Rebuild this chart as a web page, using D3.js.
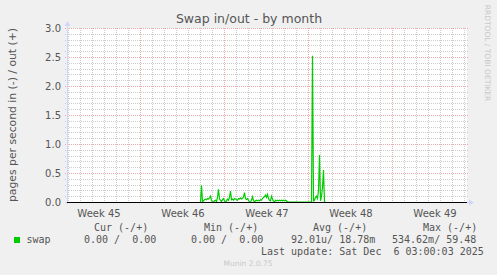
<!DOCTYPE html>
<html><head><meta charset="utf-8">
<script src="https://cdn.jsdelivr.net/npm/d3@7"></script>
<style>
html,body{margin:0;padding:0;background:#f0f0f0;}
svg{display:block;}
text{white-space:pre;}
</style></head>
<body>
<script>
// ---------- data ----------
const title = "Swap in/out - by month";
const yLabel = "pages per second in (-) / out (+)";
const yTicks = [0.0, 0.5, 1.0, 1.5, 2.0, 2.5, 3.0];
const weekLabels = ["Week 45", "Week 46", "Week 47", "Week 48", "Week 49"];
const weekLabelHours = [64, 232, 400, 568, 736];      // hours from graph start
const weekLineHours = [146, 314, 482, 650];           // week boundaries
const dayLineStartHour = 2;                            // first midnight
const rangeHours = 800;                                // 33d 8h, 2h per sample
const sampleHours = 2;
const outStartHour = 266;                              // first sample of swap out
const outValues = [
  0, 0.29, 0.0, 0.02, 0.04, 0.05, 0.04, 0.06, 0.05, 0.07, 0.10, 0.03, 0.0, 0.0, 0.02, 0.03,
  0.01, 0.08, 0.22, 0.05, 0.03, 0.01, 0.04, 0.06, 0.02, 0.0, 0.02, 0.05, 0.03, 0.08, 0.19, 0.04,
  0.05, 0.03, 0.06, 0.05, 0.04, 0.03, 0.06, 0.05, 0.07, 0.05, 0.06, 0.09, 0.16, 0.06, 0.04, 0.06,
  0.03, 0.0, 0.0, 0.03, 0.09, 0.03, 0.0, 0.02, 0.03, 0.02, 0.03, 0.02, 0.04, 0.03, 0.06, 0.08,
  0.09, 0.12, 0.08, 0.13, 0.06, 0.03, 0.02, 0.10, 0.05, 0.02, 0.0, 0.03, 0.02, 0.03, 0.02, 0.03,
  0.02, 0.03, 0.02, 0.03, 0.02, 0.03, 0.02, 0.0, 0.0, 0.0, 0.0, 0.0, 0.0, 0.0, 0.0, 0.0,
  0.0, 0.0, 0.0, 0.0, 0.0, 0.0, 0.0, 0.0, 0.0, 0.0, 0.0, 0.0, 0.0, 0.0, 0.0, 0.0,
  2.52, 0.02, 0.03, 0.08, 0.10, 0.06, 0.20, 0.81, 0.02, 0.10, 0.25, 0.55, 0.0, 0.0
];
const legendHeaders = ["Cur (-/+)", "Min (-/+)", "Avg (-/+)", "Max (-/+)"];
const legendSeries = "swap";
const legendValues = ["0.00 /  0.00", "0.00 /  0.00", "92.01u/ 18.78m", "534.62m/ 59.48"];
const lastUpdate = "Last update: Sat Dec  6 03:00:03 2025";
const footer = "Munin 2.0.75";
const watermark = "RRDTOOL / TOBI OETIKER";

// ---------- layout ----------
const W = 497, H = 275;
const L = 67, R = 467, T = 28, B = 202;
const sans = "DejaVu Sans", mono = "DejaVu Sans Mono";
const fontCol = "#555555";

const svg = d3.select("body").append("svg").attr("width", W).attr("height", H);
svg.append("rect").attr("width", W).attr("height", H).attr("fill", "#f0f0f0");

const x = d3.scaleLinear().domain([0, rangeHours]).range([L, R]);
const y = d3.scaleLinear().domain([0, 3]).range([B, T]);

svg.append("rect").attr("x", L).attr("y", T).attr("width", R - L).attr("height", B - T).attr("fill", "#ffffff");

// minor grid
const g = svg.append("g").attr("shape-rendering", "crispEdges");
const minorCol = "#cccccc", majorCol = "#eeaaaa";
const dayHours = d3.range(dayLineStartHour, rangeHours, 24).filter(h => !weekLineHours.includes(h));
g.selectAll(".vmin").data(dayHours).join("line")
  .attr("x1", d => Math.round(x(d)) + 0.5).attr("x2", d => Math.round(x(d)) + 0.5)
  .attr("y1", T).attr("y2", B + 2)
  .attr("stroke", minorCol).attr("stroke-dasharray", "1,1");
const minorY = d3.range(1, 30).map(i => i / 10).filter(v => Math.abs(v * 2 - Math.round(v * 2)) > 1e-6);
g.selectAll(".hmin").data(minorY).join("line")
  .attr("x1", L - 2).attr("x2", R + 2)
  .attr("y1", d => Math.round(y(d)) + 0.5).attr("y2", d => Math.round(y(d)) + 0.5)
  .attr("stroke", minorCol).attr("stroke-dasharray", "1,1");
// major grid
g.selectAll(".vmaj").data(weekLineHours).join("line")
  .attr("x1", d => Math.round(x(d)) + 0.5).attr("x2", d => Math.round(x(d)) + 0.5)
  .attr("y1", T).attr("y2", B + 2)
  .attr("stroke", majorCol).attr("stroke-dasharray", "1,1");
g.selectAll(".hmaj").data(yTicks.slice(1)).join("line")
  .attr("x1", L - 2).attr("x2", R + 2)
  .attr("y1", d => Math.round(y(d)) + 0.5).attr("y2", d => Math.round(y(d)) + 0.5)
  .attr("stroke", majorCol).attr("stroke-dasharray", "1,1");

// y tick labels
svg.selectAll(".yt").data(yTicks).join("text")
  .attr("x", 61).attr("y", d => y(d) + 3.5)
  .attr("text-anchor", "end").attr("font-family", sans).attr("font-size", 10)
  .attr("fill", fontCol).text(d => d.toFixed(1));

// x labels
svg.selectAll(".xt").data(weekLabels).join("text")
  .attr("x", (d, i) => x(weekLabelHours[i])).attr("y", 216.5)
  .attr("text-anchor", "middle").attr("font-family", sans).attr("font-size", 10)
  .attr("fill", fontCol).text(d => d);

// data line
const pts = outValues.map((v, i) => [outStartHour + i * sampleHours, v]);
svg.append("path").datum(pts)
  .attr("d", d3.line().x(d => Math.round(x(d[0])) + 0.5).y(d => y(d[1])))
  .attr("fill", "none").attr("stroke", "#00cc00").attr("stroke-width", 1.2);

// axes
const axCol = "#cfd6f8";
svg.append("line").attr("x1", L + 0.5).attr("x2", L + 0.5).attr("y1", B + 2).attr("y2", T - 3)
  .attr("stroke", axCol).attr("shape-rendering", "crispEdges");
svg.append("line").attr("x1", L - 2).attr("x2", R + 3).attr("y1", B + 0.5).attr("y2", B + 0.5)
  .attr("stroke", axCol).attr("shape-rendering", "crispEdges");
svg.append("path").attr("d", `M${L + 0.5},${T - 7} L${L - 2.5},${T - 2} L${L + 3.5},${T - 2} Z`).attr("fill", axCol);
svg.append("path").attr("d", `M${R + 7},${B + 0.5} L${R + 2},${B - 2.5} L${R + 2},${B + 3.5} Z`).attr("fill", axCol);

// zero rule
svg.append("line").attr("x1", L).attr("x2", R).attr("y1", y(0) + 0.5).attr("y2", y(0) + 0.5)
  .attr("stroke", "#000000").attr("shape-rendering", "crispEdges");

// title
svg.append("text").attr("x", 249).attr("y", 23).attr("text-anchor", "middle")
  .attr("font-family", sans).attr("font-size", 12.5).attr("fill", fontCol).text(title);

// y label
svg.append("text").attr("transform", `translate(15.5,115) rotate(-90)`)
  .attr("text-anchor", "middle").attr("font-family", sans).attr("font-size", 10.8)
  .attr("fill", fontCol).text(yLabel);

// watermark
svg.append("text").attr("transform", `translate(485,53) rotate(90)`)
  .attr("text-anchor", "middle").attr("font-family", sans).attr("font-size", 7.5)
  .attr("fill", "#c8c8c8").text(watermark);

// legend
const headerX = [94, 204, 313, 423];
svg.selectAll(".lh").data(legendHeaders).join("text")
  .attr("x", (d, i) => headerX[i]).attr("y", 231)
  .attr("font-family", mono).attr("font-size", 10).attr("fill", fontCol).text(d => d);
svg.append("rect").attr("x", 14).attr("y", 237).attr("width", 6).attr("height", 6).attr("fill", "#00cc00");
svg.append("text").attr("x", 26.5).attr("y", 243)
  .attr("font-family", mono).attr("font-size", 10).attr("fill", fontCol).text(legendSeries);
const valX = [84, 191, 291, 392];
svg.selectAll(".lv").data(legendValues).join("text")
  .attr("x", (d, i) => valX[i]).attr("y", 243)
  .attr("font-family", mono).attr("font-size", 10).attr("fill", fontCol).text(d => d);
svg.append("text").attr("x", 261).attr("y", 255)
  .attr("font-family", mono).attr("font-size", 10).attr("fill", fontCol).text(lastUpdate);
svg.append("text").attr("x", 248).attr("y", 266).attr("text-anchor", "middle")
  .attr("font-family", sans).attr("font-size", 7.5).attr("fill", "#c8c8c8").text(footer);
</script>
</body></html>
